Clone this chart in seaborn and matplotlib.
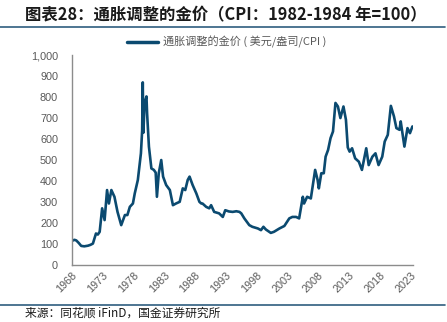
import matplotlib
matplotlib.use("Agg")
import matplotlib.pyplot as plt
import seaborn as sns
import pandas as pd
from matplotlib.ticker import FuncFormatter
from matplotlib.lines import Line2D

sns.set_theme(style="white")
plt.rcParams['font.family'] = ['Liberation Sans', 'Noto Sans CJK SC', 'DejaVu Sans']

title = "图表28：通胀调整的金价（CPI：1982-1984 年=100）"
series_name = "通胀调整的金价 ( 美元/盎司/CPI )"
source = "来源：同花顺 iFinD，国金证券研究所"

years = [1968.0, 1968.4, 1968.7, 1969.1, 1969.5, 1970.0, 1970.6, 1971.0, 1971.4, 1971.9,
         1972.2, 1972.5, 1972.9, 1973.3, 1973.7, 1974.0, 1974.4, 1974.9, 1975.4, 1976.0,
         1976.4, 1976.6, 1977.0, 1977.4, 1977.9, 1978.2, 1978.7, 1979.2, 1979.4, 1979.5,
         1979.6, 1979.8, 1980.1, 1980.2, 1980.5, 1980.9, 1981.3, 1981.6, 1981.8, 1982.1,
         1982.5, 1982.8, 1983.3, 1983.9, 1984.4, 1984.9, 1985.5, 1986.0, 1986.4, 1986.8,
         1987.1, 1987.6, 1988.2, 1988.7, 1989.0, 1989.2, 1989.8, 1990.3, 1990.6, 1991.1,
         1991.9, 1992.5, 1992.9, 1993.5, 1994.1, 1994.7, 1995.2, 1995.5, 1996.0, 1996.8,
         1997.3, 1998.2, 1998.7, 1999.1, 1999.5, 2000.3, 2000.8, 2001.7, 2002.5, 2003.3,
         2003.8, 2004.4, 2004.9, 2005.5, 2005.7, 2006.2, 2006.8, 2007.5, 2007.9, 2008.1,
         2008.5, 2008.9, 2009.2, 2009.6, 2010.0, 2010.4, 2010.8, 2011.2, 2011.6, 2012.1,
         2012.5, 2012.8, 2013.1, 2013.5, 2014.0, 2014.6, 2015.1, 2015.8, 2016.2, 2016.8,
         2017.3, 2017.8, 2018.4, 2018.8, 2019.3, 2019.8, 2020.3, 2020.7, 2021.2, 2021.4,
         2022.0, 2022.5, 2022.9, 2023.3]
values = [115, 120, 117, 105, 91, 89, 92, 96, 102, 150,
          145, 158, 270, 214, 357, 293, 357, 325, 253, 190,
          222, 238, 238, 277, 293, 341, 405, 532, 640, 870,
          630, 771, 803, 724, 564, 460, 453, 440, 325, 437,
          500, 421, 381, 357, 285, 293, 301, 365, 357, 405,
          421, 381, 341, 301, 293, 293, 277, 270, 285, 253,
          246, 229, 261, 255, 253, 256, 253, 246, 222, 190,
          182, 174, 166, 182, 169, 153, 158, 174, 186, 222,
          229, 229, 222, 325, 293, 325, 317, 453, 405, 365,
          437, 437, 516, 548, 604, 636, 772, 755, 700, 755,
          692, 560, 540, 556, 508, 492, 453, 556, 476, 516,
          532, 476, 516, 588, 620, 758, 708, 652, 644, 684,
          564, 652, 628, 660]
x_ticks = [1968, 1973, 1978, 1983, 1988, 1993, 1998, 2003, 2008, 2013, 2018, 2023]
y_ticks = [0, 100, 200, 300, 400, 500, 600, 700, 800, 900, 1000]

df = pd.DataFrame({"year": years, "value": values})

fig = plt.figure(figsize=(4.47, 3.22), dpi=100)
ax = fig.add_axes([0.161, 0.177, 0.763, 0.652])

line_color = "#0B4A70"
sns.lineplot(data=df, x="year", y="value", ax=ax, color=line_color, linewidth=1.9, legend=False)

ax.set_xlim(1968, 2023.4)
ax.set_ylim(0, 1000)
ax.set_xticks(x_ticks)
ax.set_xticklabels([str(t) for t in x_ticks], rotation=45, ha="right", rotation_mode="anchor")
ax.set_yticks(y_ticks)
ax.yaxis.set_major_formatter(FuncFormatter(lambda v, p: f"{int(v):,}"))
ax.set_xlabel("")
ax.set_ylabel("")

for s in ["top", "right"]:
    ax.spines[s].set_visible(False)
for s in ["left", "bottom"]:
    ax.spines[s].set_color("#8C8C8C")
    ax.spines[s].set_linewidth(1.0)
ax.tick_params(axis="both", direction="in", length=3, width=0.8, color="#8C8C8C",
               labelsize=7.8, labelcolor="#595959")
ax.tick_params(axis="y", pad=10)
ax.tick_params(axis="x", pad=4)

# title
fig.text(0.055, 0.953, title, fontsize=11.8, fontweight="bold", style="italic",
         color="#1A1A1A", ha="left", va="center",
         family=['Noto Sans CJK SC', 'DejaVu Sans'])
fig.add_artist(Line2D([0.0, 0.995], [1 - 27 / 322, 1 - 27 / 322], color="#2F5E7F", linewidth=1.2))

# legend
ly = 1 - 42 / 322
fig.add_artist(Line2D([127 / 447, 158 / 447], [ly, ly], color=line_color, linewidth=2.5))
fig.text(163 / 447, ly, series_name, fontsize=8, color="#595959", ha="left", va="center",
         family=['Noto Sans CJK SC', 'DejaVu Sans'])

# bottom
fig.add_artist(Line2D([0.0, 0.995], [1 - 304.5 / 322, 1 - 304.5 / 322], color="#2F5E7F", linewidth=1.2))
fig.text(0.055, 1 - 313 / 322, source, fontsize=8.5, color="#1A1A1A", ha="left", va="center",
         family=['Noto Sans CJK SC', 'DejaVu Sans'])

fig.savefig("out.png", dpi=100, facecolor="white")
